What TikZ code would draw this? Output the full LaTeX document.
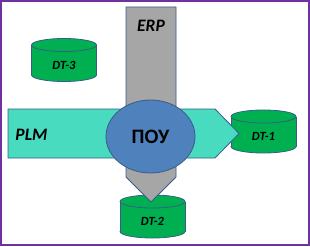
\documentclass[tikz,border=0pt]{standalone}
\usepackage{fontspec}
\setmainfont{Carlito}
\usepackage{xcolor}
\usepackage{tikz}
\usetikzlibrary{shapes,arrows,positioning,calc}

\definecolor{framepurple}{HTML}{7030A0}
\definecolor{edgeblue}{HTML}{385D8A}
\definecolor{erpgray}{HTML}{A6A6A6}
\definecolor{plmcyan}{HTML}{48DBC0}
\definecolor{dtgreen}{HTML}{00B050}
\definecolor{poublue}{HTML}{4F81BD}

\tikzset{
  dblabel/.style={font=\fontsize{12.5}{14}\selectfont\bfseries\itshape},
  streamlabel/.style={font=\fontsize{17.5}{20}\selectfont\bfseries\itshape},
  flowarrow/.style={draw=edgeblue, thick},
  % data store drum
  dbstore/.pic={
    \draw[edgeblue, thick, fill=dtgreen] (0,15) ellipse (32.5 and 6.5);
    \fill[dtgreen] (-32.5,-15) rectangle (32.5,15);
    \draw[edgeblue, thick] (-32.5,-15) -- (-32.5,15) (32.5,-15) -- (32.5,15);
    \draw[edgeblue, thick, fill=dtgreen] (0,-15) ellipse (32.5 and 6.5);
    \node[dblabel] (-txt) at (0,5) {#1};
  }
}

\begin{document}
\begin{tikzpicture}[x=1pt,y=-1pt]
\useasboundingbox (0,0) rectangle (310,246);
% Frame
\draw[framepurple, line width=1.2pt] (1,1) rectangle (309,245);

% Data stores
\pic (dt3) at (64,60) {dbstore=DT-3};
\pic (dt1) at (263.5,131.5) {dbstore=DT-1};
\pic (dt2) at (152.5,216.5) {dbstore=DT-2};

% ERP stream
\draw[flowarrow, fill=erpgray] (126,7) -- (176,7) -- (176,177) -- (151,202) -- (126,177) -- cycle;
\node[streamlabel] (erp) at (151,26) {ERP};

% PLM stream
\draw[flowarrow, fill=plmcyan] (8,109) -- (215,109) -- (239,133.5) -- (215,158) -- (8,158) -- cycle;
\node[streamlabel] (plm) at (31.5,135) {PLM};

% Center
\node[ellipse, draw=edgeblue, thick, fill=poublue, minimum width=89pt, minimum height=73pt,
  inner sep=0pt, font=\fontsize{20.5}{24}\selectfont\bfseries] (pou) at (150.5,136.5) {ПОУ};

\end{tikzpicture}
\end{document}
